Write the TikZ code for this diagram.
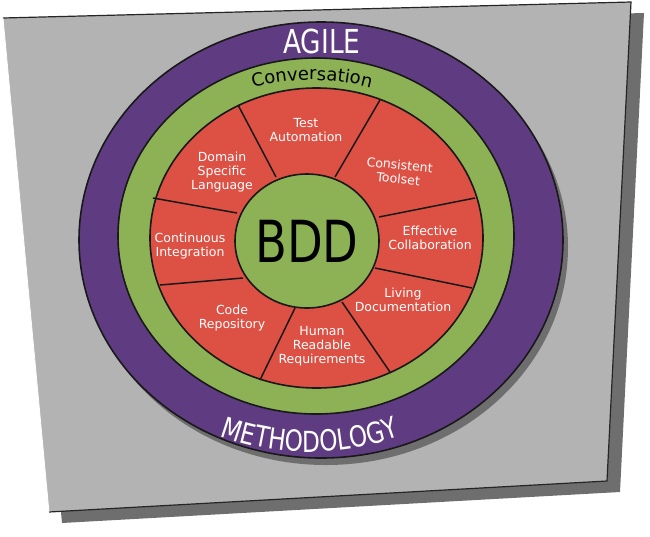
\documentclass[tikz,border=0pt]{standalone}
\usepackage{fontspec}
\setmainfont{DejaVu Sans}
\newfontfamily\fina[FakeStretch=0.8]{DejaVu Sans}
\usetikzlibrary{decorations.text}
\definecolor{hoja}{RGB}{179,179,179}
\definecolor{sombra}{RGB}{110,110,110}
\definecolor{morado}{RGB}{95,60,130}
\definecolor{verde}{RGB}{141,177,85}
\definecolor{rojo}{RGB}{221,80,68}
\tikzset{
  anillo/.style={draw=black!90, line width=1.6pt},
  radio/.style={black!90, line width=1.5pt},
  etiqueta/.style={text=white, align=center, font=\fontsize{12.5}{14}\selectfont},
}

\begin{document}
\begin{tikzpicture}[x=1pt,y=1pt]
  \useasboundingbox (0,0) rectangle (650,-536);

  % Hoja y sombra
  \fill[sombra] (16,-29) -- (644,-13) -- (620,-492) -- (62,-523) -- cycle;
  \fill[hoja] (3,-18) -- (631,-2) -- (607,-481) -- (49,-512) -- cycle;
  \draw[black!85, line width=1.2pt] (3,-18) -- (631,-2) -- (607,-481) -- (49,-512);
  \draw[white, line width=0.8pt] (49,-512) -- (3,-18);

  % Anillos
  \fill[sombra] (326,-247) ellipse [x radius=242, y radius=218];
  \draw[anillo, fill=morado] (321,-240) ellipse [x radius=242, y radius=218];
  \draw[anillo, fill=verde] (316,-236) ellipse [x radius=198, y radius=178];
  \draw[anillo, fill=rojo] (316.5,-238) ellipse [x radius=166.5, y radius=150];

  % Radios entre sectores
  \foreach \xa/\ya/\xb/\yb in {238/105/276/177, 380/100/335/177, 475/198/379/217,
      153/198/237/213, 160/285/243/278, 260/380/295/308, 390/372/342/302, 472/288/375/268}
    \draw[radio] (\xa,-\ya) -- (\xb,-\yb);

  % Centro
  \draw[anillo, fill=verde] (307,-241) ellipse [x radius=72, y radius=67];
  \node[font=\fina\fontsize{58}{58}\selectfont] (bdd) at (307,-241) {BDD};

  % Textos de los anillos
  \node[text=white, font=\fina\fontsize{33}{33}\selectfont] (agile) at (322,-41) {AGILE};
  \path[decorate, decoration={text along path, text align=center,
      text={|\fontsize{18}{18}\selectfont|Conversation}}]
    (312,-240) ++(120:190 and 160) arc [start angle=120, end angle=60, x radius=190, y radius=160];
  \path[decorate, decoration={text along path, text align=center, text color=white,
      text={|\fina\fontsize{29}{29}\selectfont|METHODOLOGY}}]
    (310,-240) ++(212:235 and 212) arc [start angle=212, end angle=328, x radius=235, y radius=212];

  % Sectores
  \node[etiqueta] (test) at (306,-130) {Test\\Automation};
  \node[etiqueta, rotate=-6] (toolset) at (399,-172) {Consistent\\Toolset};
  \node[etiqueta] (collab) at (430,-238) {Effective\\Collaboration};
  \node[etiqueta] (living) at (403,-300) {Living\\Documentation};
  \node[etiqueta] (human) at (322,-346) {Human\\Readable\\Requirements};
  \node[etiqueta] (code) at (232,-318) {Code\\Repository};
  \node[etiqueta] (ci) at (190,-246) {Continuous\\Integration};
  \node[etiqueta] (dsl) at (222,-172) {Domain\\Specific\\Language};
\end{tikzpicture}
\end{document}
